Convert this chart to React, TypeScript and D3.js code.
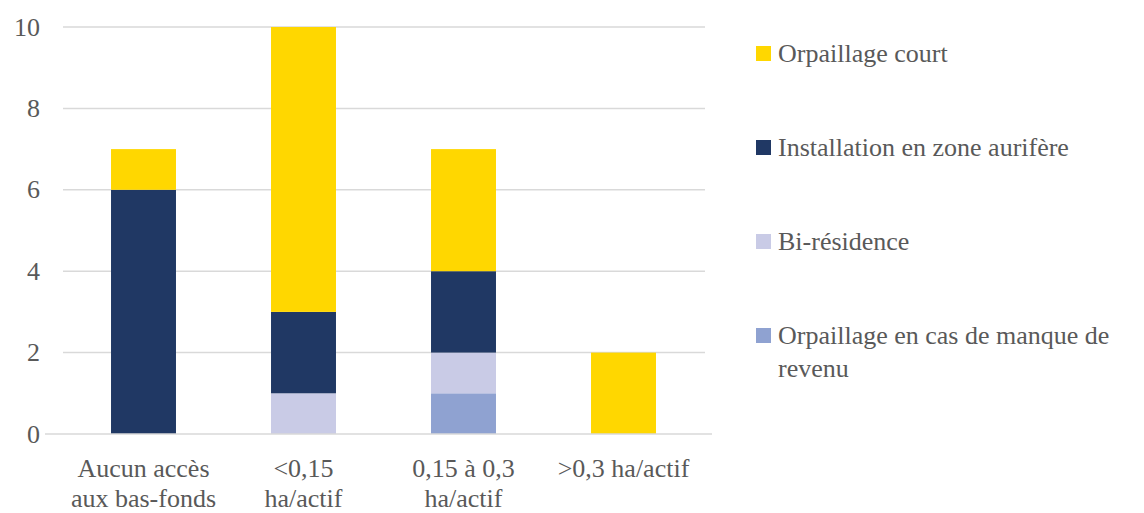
import React from "react";
import { scaleBand, scaleLinear, stack } from "d3";

const categories = ["Aucun accès|aux bas-fonds", "<0,15|ha/actif", "0,15 à 0,3|ha/actif", ">0,3 ha/actif"];
const manque = [0, 0, 1, 0];
const biResidence = [0, 1, 1, 0];
const installation = [6, 2, 2, 0];
const court = [1, 7, 3, 2];
const yTicks = [0, 2, 4, 6, 8, 10];

const colors = ["#8FA2D1", "#C9CBE6", "#203864", "#FFD700"];
const legendLines = [["Orpaillage court"], ["Installation en zone aurifère"], ["Bi-résidence"], ["Orpaillage en cas de manque de", "revenu"]];
const legendColors = ["#FFD700", "#203864", "#C9CBE6", "#8FA2D1"];

const W = 1144;
const H = 513;
const FS = 26;

export default function App() {
  const x = scaleBand().domain(categories).range([63.5, 703.5]).paddingInner(0.594).paddingOuter(0.297);
  const y = scaleLinear().domain([0, 10]).range([434, 27]);

  const rows = categories.map((c, i) => ({ cat: c, s0: manque[i], s1: biResidence[i], s2: installation[i], s3: court[i] }));
  const layers = stack<any>().keys(["s0", "s1", "s2", "s3"])(rows);

  return (
    <div style={{ position: "absolute", left: 0, top: 0, fontFamily: '"Times New Roman"' }}>
      <svg width={W} height={H} style={{ display: "block", background: "#fff" }}>
        {yTicks.filter((t) => t > 0).map((t) => (
          <line key={t} x1={63} x2={705} y1={y(t)} y2={y(t)} stroke="#d9d9d9" strokeWidth={1.5} />
        ))}
        {layers.map((layer, li) => (
          <g key={li} fill={colors[li]}>
            {layer.map((d, i) =>
              d[1] - d[0] > 0 ? (
                <rect key={i} x={x(categories[i])} width={x.bandwidth()} y={y(d[1])} height={y(d[0]) - y(d[1])} />
              ) : null
            )}
          </g>
        ))}
        <line x1={45} x2={712} y1={y(0)} y2={y(0)} stroke="#d9d9d9" strokeWidth={1.5} />
        {yTicks.map((t) => (
          <text key={t} x={40} y={y(t)} dy="0.33em" textAnchor="end" fontSize={FS} fill="#595959" style={{ fontFamily: '"Times New Roman"' }}>{t}</text>
        ))}
        {categories.map((c) => {
          const cx = (x(c) as number) + x.bandwidth() / 2;
          return (
            <text key={c} x={cx} y={477} textAnchor="middle" fontSize={FS} fill="#595959" style={{ fontFamily: '"Times New Roman"' }}>
              {c.split("|").map((l, i) => (
                <tspan key={i} x={cx} dy={i === 0 ? 0 : 30}>{l}</tspan>
              ))}
            </text>
          );
        })}
        {legendLines.map((lines, i) => {
          const cy = 53 + i * 94;
          return (
            <g key={i}>
              <rect x={756} y={cy - 7} width={15} height={15} fill={legendColors[i]} />
              <text x={778} y={cy} fontSize={FS} fill="#595959" style={{ fontFamily: '"Times New Roman"' }}>
                {lines.map((l, j) => (
                  <tspan key={j} x={778} dy={j === 0 ? "0.35em" : 33}>{l}</tspan>
                ))}
              </text>
            </g>
          );
        })}
      </svg>
    </div>
  );
}
